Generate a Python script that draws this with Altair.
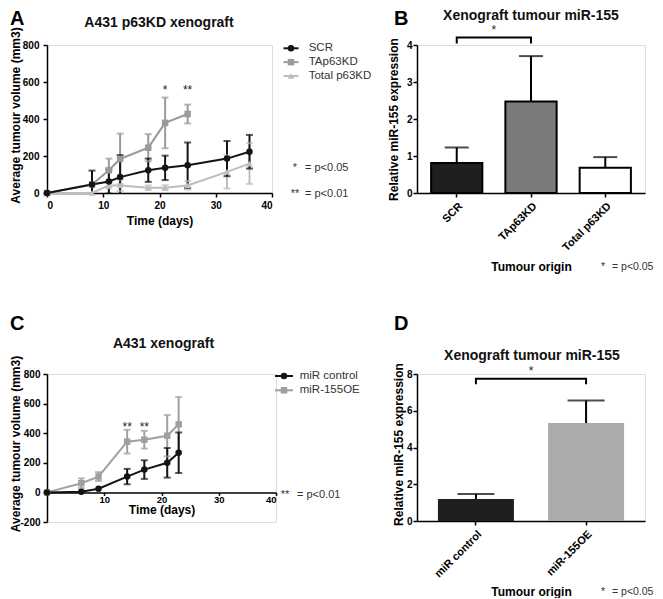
import altair as alt
import pandas as pd

FONT = "Liberation Sans"

# ---------------- Panel A: A431 p63KD xenograft (mean +/- SEM) ----------------
a_series = ["SCR", "TAp63KD", "Total p63KD"]
a_colors = ["#141414", "#9a9a9a", "#bdbdbd"]
a_shapes = ["circle", "square", "triangle-up"]
a_scr_days = [0, 8, 11, 13, 18, 21, 25, 32, 36]
a_scr_mean = [0, 46, 62, 86, 123, 136, 150, 186, 223]
a_scr_sem = [0, 75, 65, 119, 63, 66, 123, 95, 91]
a_tap_days = [0, 8, 11, 13, 18, 21, 25]
a_tap_mean = [0, 46, 123, 184, 245, 379, 427]
a_tap_sem = [0, 0, 63, 137, 73, 137, 51]
a_tot_days = [0, 8, 11, 13, 18, 21, 25, 32, 36]
a_tot_mean = [0, 0, 41, 41, 29, 29, 41, 114, 159]
a_tot_sem = [0, 0, 15, 30, 12, 13, 23, 90, 110]
a_star_days = [21, 25]
a_star_y = [556, 556]
a_star_text = ["*", "**"]

# ---------------- Panel B: Xenograft tumour miR-155 ----------------
b_cats = ["SCR", "TAp63KD", "Total p63KD"]
b_mean = [0.81, 2.47, 0.68]
b_sem = [0.42, 1.23, 0.29]
b_fill = ["#1f1f1f", "#7b7b7b", "#ffffff"]
b_bracket_cats = ["SCR", "SCR", "TAp63KD", "TAp63KD"]
b_bracket_y = [4.04, 4.20, 4.20, 4.04]
b_star_y = 4.40

# ---------------- Panel C: A431 xenograft ----------------
c_series = ["miR control", "miR-155OE"]
c_colors = ["#141414", "#a0a0a0"]
c_shapes = ["circle", "square"]
c_days = [0, 6, 9, 14, 17, 21, 23]
c_ctrl_mean = [0, 5, 25, 107, 154, 200, 268]
c_ctrl_sem = [0, 0, 0, 52, 63, 100, 137]
c_oe_mean = [0, 62, 107, 343, 356, 383, 460]
c_oe_sem = [0, 33, 30, 80, 60, 140, 185]
c_star_days = [14, 17]
c_star_y = [441, 441]
c_star_text = ["**", "**"]

# ---------------- Panel D: Xenograft tumour miR-155 ----------------
d_cats = ["miR control", "miR-155OE"]
d_mean = [1.20, 5.33]
d_sem = [0.27, 1.23]
d_fill = ["#1f1f1f", "#ababab"]
d_bracket_cats = ["miR control", "miR control", "miR-155OE", "miR-155OE"]
d_bracket_y = [7.44, 7.74, 7.74, 7.44]
d_star_y = 8.19

# ---------------- layout ----------------
W_A, W_B, W_C, W_D = 225, 228, 229, 228
H_TOP, H_C, H_D = 148, 148, 147
PAD_IN, PAD_OUT = 0.31, 0.19


def ax(**kw):
    base = dict(grid=False, domainColor="black", domainWidth=1.5, tickColor="black",
                tickWidth=1.5, tickSize=4, labelFont=FONT, labelFontSize=10,
                labelFontWeight="bold", labelColor="black", titleFont=FONT,
                titleFontSize=12, titleFontWeight="bold", titleColor="black")
    base.update(kw)
    return alt.Axis(**base)


def note(text, x, y, size=11, weight="normal", align="left",
         baseline="alphabetic", color="#333333"):
    return alt.Chart(pd.DataFrame({"t": [text]})).mark_text(
        font=FONT, fontSize=size, fontWeight=weight, align=align,
        baseline=baseline, color=color, fill=color
    ).encode(text="t:N", x=alt.value(x), y=alt.value(y))


def legend_layers(names, colors, shapes, x0, x1, y0, dy, xt):
    layers = []
    for i, (n, c, s) in enumerate(zip(names, colors, shapes)):
        y = y0 + i * dy
        one = pd.DataFrame({"series": [n]})
        layers.append(alt.Chart(one).mark_rule(color=c, stroke=c, strokeWidth=2).encode(
            x=alt.value(x0), x2=alt.value(x1), y=alt.value(y)))
        layers.append(alt.Chart(one).mark_point(filled=True, shape=s, size=42, color=c,
                                                fill=c, opacity=1).encode(
            x=alt.value((x0 + x1) / 2), y=alt.value(y)))
        layers.append(alt.Chart(one).mark_text(font=FONT, fontSize=11.5, align="left",
                                               baseline="middle", color="#333333").encode(
            x=alt.value(xt), y=alt.value(y), text="series:N"))
    return layers


def series_frame(names, days, means, sems):
    rows = []
    for n, dd, mm, ss in zip(names, days, means, sems):
        for d, m, s in zip(dd, mm, ss):
            rows.append({"series": n, "day": d, "mean": m, "sem": s,
                         "lo": m - s, "hi": m + s})
    return pd.DataFrame(rows)


def line_layers(df, stars, series, colors, shapes, xdom, ydom, xaxis, yaxis, clip):
    cs = alt.Scale(domain=series, range=colors)
    ss = alt.Scale(domain=series, range=shapes)
    xs = alt.Scale(domain=xdom, nice=False, zero=False)
    ys = alt.Scale(domain=ydom, nice=False, zero=False)

    def X(f):
        return alt.X(f"{f}:Q", scale=xs, axis=xaxis)

    def Y(f):
        return alt.Y(f"{f}:Q", scale=ys, axis=yaxis)

    base = alt.Chart(df)
    err = base.transform_filter("datum.sem > 0")
    col = alt.Color("series:N", scale=cs, legend=None)
    rules = err.mark_rule(strokeWidth=2, clip=clip).encode(
        x=X("day"), y=Y("lo"), y2="hi:Q", color=col)
    caps_lo = err.mark_tick(orient="horizontal", size=7, thickness=2, clip=clip).encode(
        x=X("day"), y=Y("lo"), color=col)
    caps_hi = err.mark_tick(orient="horizontal", size=7, thickness=2, clip=clip).encode(
        x=X("day"), y=Y("hi"), color=col)
    lines = base.mark_line(strokeWidth=2).encode(x=X("day"), y=Y("mean"), color=col)
    pts = base.mark_point(filled=True, size=42, opacity=1).encode(
        x=X("day"), y=Y("mean"), color=col,
        shape=alt.Shape("series:N", scale=ss, legend=None))
    st = alt.Chart(stars).mark_text(font=FONT, fontSize=12, color="#222222").encode(
        x=X("day"), y=Y("y"), text="t:N")
    return [rules, caps_lo, caps_hi, lines, pts, st]


def bar_layers(cats, means, sems, fills, stroke_w, width, ydom, xaxis, yaxis,
               cap, br_cats, br_y, star_y):
    xs = alt.Scale(domain=cats, paddingInner=PAD_IN, paddingOuter=PAD_OUT)
    ys = alt.Scale(domain=ydom, nice=False)
    step = width / (len(cats) - PAD_IN + 2 * PAD_OUT)

    def X():
        return alt.X("cat:N", scale=xs, axis=xaxis)

    def Y(f):
        return alt.Y(f"{f}:Q", scale=ys, axis=yaxis)

    df = pd.DataFrame({"cat": cats, "mean": means,
                       "top": [m + s for m, s in zip(means, sems)]})
    base = alt.Chart(df)
    bars = base.mark_bar(stroke="black", strokeWidth=stroke_w,
                         strokeOpacity=1 if stroke_w else 0).encode(
        x=X(), y=Y("mean"),
        fill=alt.Fill("cat:N", scale=alt.Scale(domain=cats, range=fills), legend=None))
    rules = base.mark_rule(color="black", stroke="black", strokeWidth=2).encode(
        x=X(), y=Y("mean"), y2="top:Q")
    caps = base.mark_tick(color="black", fill="black", thickness=2, size=cap,
                          orient="horizontal").encode(x=X(), y=Y("top"))
    br = alt.Chart(pd.DataFrame({"cat": br_cats, "y": br_y,
                                 "o": list(range(len(br_cats)))})).mark_line(
        color="black", stroke="black", strokeWidth=2).encode(x=X(), y=Y("y"), order="o:Q")
    st = alt.Chart(pd.DataFrame({"cat": [cats[0]], "y": [star_y], "t": ["*"]})).mark_text(
        font=FONT, fontSize=12, color="#222222", fill="#222222", dx=step / 2).encode(
        x=X(), y=Y("y"), text="t:N")
    return [bars, rules, caps, br, st]


# ---------------- Panel A ----------------
dfA = series_frame(["Total p63KD", "TAp63KD", "SCR"],
                   [a_tot_days, a_tap_days, a_scr_days],
                   [a_tot_mean, a_tap_mean, a_scr_mean],
                   [a_tot_sem, a_tap_sem, a_scr_sem])
starsA = pd.DataFrame({"day": a_star_days, "y": a_star_y, "t": a_star_text})
xA = ax(values=[0, 10, 20, 30, 40], title="Time (days)", labelPadding=3,
        titleBaseline="alphabetic", titleY=31.6)
yA = ax(values=[0, 200, 400, 600, 800], title="Average tumour volume (mm3)",
        labelPadding=4, titleX=-25, titleY=70)
panelA = alt.layer(
    *line_layers(dfA, starsA, a_series, a_colors, a_shapes, [0, 40], [0, 800],
                 xA, yA, True),
    *legend_layers(a_series, a_colors, a_shapes, 236.5, 251.5, 3.3, 13.85, 261.7),
    note("A", -37, -36, size=20, weight="bold", baseline="top", color="black"),
    note("A431 p63KD xenograft", 112, -18, size=14, weight="bold", align="center", color="#111111"),
    note("*", 248, 126, align="center"),
    note("= p<0.05", 258, 126),
    note("**", 248, 152, align="center"),
    note("= p<0.01", 258, 152),
).properties(width=W_A, height=H_TOP)

# ---------------- Panel B ----------------
xB = ax(title="Tumour origin", labelAngle=-45, labelFontSize=11, labelPadding=3,
        titleBaseline="alphabetic", titleY=77)
yB = ax(values=[0, 1, 2, 3, 4], title="Relative miR-155 expression", labelPadding=1,
        titleX=-17)
panelB = alt.layer(
    *bar_layers(b_cats, b_mean, b_sem, b_fill, 2, W_B, [0, 4], xB, yB, 24,
                b_bracket_cats, b_bracket_y, b_star_y),
    note("B", -23, -36, size=20, weight="bold", baseline="top", color="black"),
    note("Xenograft tumour miR-155", 114, -25, size=14, weight="bold", align="center", color="#111111"),
    note("*", 186, 225, size=10.5, align="center"),
    note("= p<0.05", 195, 225, size=10.5),
).properties(width=W_B, height=H_TOP)

# ---------------- Panel C ----------------
dfC = series_frame(["miR-155OE", "miR control"], [c_days, c_days],
                   [c_oe_mean, c_ctrl_mean], [c_oe_sem, c_ctrl_sem])
starsC = pd.DataFrame({"day": c_star_days, "y": c_star_y, "t": c_star_text})
xC = ax(values=[10, 20, 30, 40], title="Time (days)", offset=-29.6, labelFlush=True,
        tickSize=3, labelPadding=-1, labelFontSize=9.5,
        titleBaseline="alphabetic", titleY=21.5)
yC = ax(values=[-200, 0, 200, 400, 600, 800], title="Average tumour volume (mm3)",
        labelExpr="'' + datum.value", labelPadding=3, titleX=-25, titleY=69.5)
panelC = alt.layer(
    *line_layers(dfC, starsC, c_series, c_colors, c_shapes, [0, 40], [-200, 800],
                 xC, yC, False),
    *legend_layers(c_series, c_colors, c_shapes, 228, 246, 2, 14.3, 252.7),
    note("C", -37, -60, size=20, weight="bold", baseline="top", color="black"),
    note("A431 xenograft", 116.5, -26, size=14, weight="bold", align="center", color="#111111"),
    note("**", 238, 124, align="center"),
    note("= p<0.01", 250, 124),
).properties(width=W_C, height=H_C)

# ---------------- Panel D ----------------
xD = ax(title="Tumour origin", labelAngle=-45, labelFontSize=11, labelPadding=3,
        titleBaseline="alphabetic", titleY=74)
yD = ax(values=[0, 2, 4, 6, 8], title="Relative miR-155 expression", labelPadding=1,
        titleX=-12, titleY=70)
panelD = alt.layer(
    *bar_layers(d_cats, d_mean, d_sem, d_fill, 0, W_D, [0, 8], xD, yD, 37,
                d_bracket_cats, d_bracket_y, d_star_y),
    note("D", -23, -60, size=20, weight="bold", baseline="top", color="black"),
    note("Xenograft tumour miR-155", 115, -14, size=14, weight="bold", align="center", color="#111111"),
    note("*", 186, 221, size=10.5, align="center"),
    note("= p<0.05", 195, 221, size=10.5),
).properties(width=W_D, height=H_D)

chart = alt.concat(
    panelA, panelB, panelC, panelD, columns=2,
    spacing={"row": 181, "column": 141}, bounds="flush"
).resolve_scale(
    color="independent", fill="independent", shape="independent"
).properties(padding=0).configure_view(stroke=None).configure(font=FONT)

chart.save("out.html", embed_options={"renderer": "svg", "actions": False})
